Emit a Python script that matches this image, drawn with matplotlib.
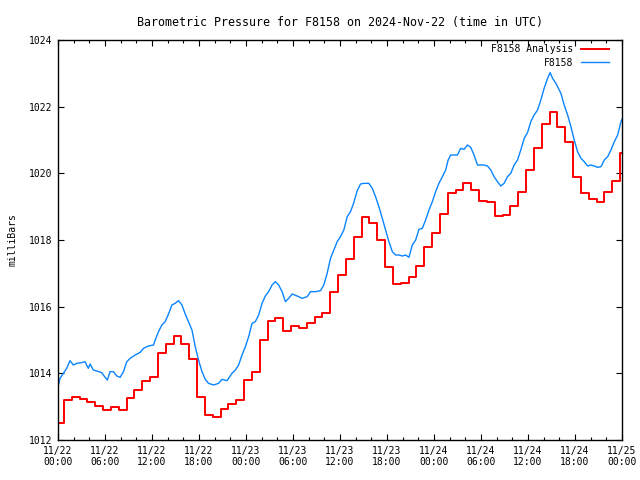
import matplotlib
matplotlib.use("Agg")
import matplotlib.pyplot as plt

# hours since 2024-11-22 00:00 UTC
blue_hours = [
    0.0, 0.26, 0.68, 1.11, 1.53, 1.96, 2.39, 3.03, 3.45, 3.87, 4.09, 4.51, 4.95, 5.59,
    6.01, 6.30, 6.65, 7.07, 7.51, 7.93, 8.35, 8.79, 9.21, 9.85, 10.49, 10.91, 11.55,
    12.19, 12.41, 12.83, 13.26, 13.68, 14.11, 14.54, 14.96, 15.38, 15.82, 16.24, 16.66,
    17.10, 17.52, 17.94, 18.38, 18.80, 19.22, 19.86, 20.50, 20.94, 21.57, 22.21, 22.64,
    23.06, 23.49, 23.92, 24.34, 24.77, 25.19, 25.62, 26.05, 26.47, 26.89, 27.33, 27.75,
    28.17, 28.61, 29.03, 29.45, 29.89, 30.53, 31.17, 31.81, 32.23, 32.87, 33.51, 33.93,
    34.36, 34.79, 35.21, 35.64, 36.06, 36.49, 36.92, 37.34, 37.76, 38.20, 38.62, 39.04,
    39.68, 40.12, 40.54, 40.96, 41.40, 41.82, 42.24, 42.68, 43.10, 43.52, 43.96, 44.38,
    44.80, 45.23, 45.66, 46.08, 46.51, 46.93, 47.36, 47.79, 48.21, 48.63, 49.07, 49.49,
    49.81, 50.13, 50.55, 50.99, 51.41, 51.83, 52.27, 52.69, 53.11, 53.55, 53.97, 54.39,
    54.83, 55.25, 55.67, 56.10, 56.53, 56.95, 57.38, 57.80, 58.23, 58.66, 59.08, 59.51,
    59.94, 60.36, 60.78, 61.22, 61.64, 62.06, 62.50, 62.83, 63.14, 63.56, 63.98, 64.20,
    64.62, 65.06, 65.48, 65.90, 66.33, 66.76, 67.18, 67.61, 68.04, 68.47, 68.89, 69.32,
    69.74, 70.17, 70.59, 71.02, 71.45, 71.87, 72.0,
]
blue_mb = [
    1013.6, 1013.85, 1014.0, 1014.15, 1014.38, 1014.25, 1014.3, 1014.32, 1014.35, 1014.15,
    1014.28, 1014.1, 1014.07, 1014.02, 1013.88, 1013.8, 1014.05, 1014.05, 1013.92, 1013.88,
    1014.05, 1014.35, 1014.45, 1014.55, 1014.63, 1014.75, 1014.82, 1014.85, 1015.0, 1015.25,
    1015.45, 1015.55, 1015.78, 1016.05, 1016.1, 1016.18, 1016.05, 1015.78, 1015.55, 1015.3,
    1014.8, 1014.4, 1014.05, 1013.82, 1013.7, 1013.65, 1013.7, 1013.82, 1013.78, 1014.0,
    1014.1, 1014.25, 1014.55, 1014.8, 1015.1, 1015.5, 1015.55, 1015.75, 1016.1, 1016.32,
    1016.45, 1016.65, 1016.75, 1016.65, 1016.45, 1016.15, 1016.25, 1016.38, 1016.32, 1016.25,
    1016.3, 1016.45, 1016.45, 1016.48, 1016.65, 1017.0, 1017.45, 1017.7, 1017.95, 1018.1,
    1018.3, 1018.7, 1018.85, 1019.12, 1019.48, 1019.68, 1019.7, 1019.7, 1019.55, 1019.3,
    1019.0, 1018.65, 1018.3, 1017.95, 1017.65, 1017.55, 1017.55, 1017.52, 1017.55, 1017.48,
    1017.85, 1018.0, 1018.32, 1018.35, 1018.6, 1018.9, 1019.15, 1019.45, 1019.7, 1019.9,
    1020.1, 1020.4, 1020.55, 1020.55, 1020.55, 1020.75, 1020.72, 1020.85, 1020.78, 1020.55,
    1020.25, 1020.25, 1020.25, 1020.22, 1020.1, 1019.9, 1019.75, 1019.62, 1019.7, 1019.9,
    1020.0, 1020.25, 1020.4, 1020.7, 1021.05, 1021.22, 1021.55, 1021.75, 1021.9, 1022.2,
    1022.55, 1022.85, 1023.02, 1022.85, 1022.7, 1022.5, 1022.4, 1022.05, 1021.75, 1021.4,
    1021.0, 1020.65, 1020.45, 1020.35, 1020.22, 1020.25, 1020.22, 1020.18, 1020.2, 1020.4,
    1020.5, 1020.7, 1020.95, 1021.15, 1021.55, 1021.62,
]

# hourly analysis values (step changes at hh:45)
red_hours = [0.0] + [h + 0.75 for h in range(72)]
red_mb = [
    1012.52, 1013.2, 1013.28, 1013.23, 1013.13, 1013.02, 1012.9, 1012.98, 1012.9, 1013.26,
    1013.5, 1013.77, 1013.9, 1014.6, 1014.88, 1015.11, 1014.88, 1014.42, 1013.28, 1012.74,
    1012.69, 1012.93, 1013.07, 1013.2, 1013.8, 1014.03, 1015.0, 1015.58, 1015.65, 1015.26,
    1015.42, 1015.36, 1015.52, 1015.68, 1015.8, 1016.43, 1016.95, 1017.42, 1018.08, 1018.68,
    1018.52, 1018.0, 1017.18, 1016.68, 1016.7, 1016.88, 1017.22, 1017.8, 1018.22, 1018.77,
    1019.4, 1019.5, 1019.7, 1019.5, 1019.16, 1019.13, 1018.72, 1018.75, 1019.02, 1019.43,
    1020.1, 1020.75, 1021.48, 1021.83, 1021.38, 1020.95, 1019.9, 1019.4, 1019.22, 1019.13,
    1019.43, 1019.78, 1020.6,
]

tick_hours = [0, 6, 12, 18, 24, 30, 36, 42, 48, 54, 60, 66, 72]
tick_labels = [
    "11/22\n00:00", "11/22\n06:00", "11/22\n12:00", "11/22\n18:00",
    "11/23\n00:00", "11/23\n06:00", "11/23\n12:00", "11/23\n18:00",
    "11/24\n00:00", "11/24\n06:00", "11/24\n12:00", "11/24\n18:00",
    "11/25\n00:00",
]
ytick_vals = [1012, 1014, 1016, 1018, 1020, 1022, 1024]

plt.rcParams["font.family"] = ["DejaVu Sans Mono"]
plt.rcParams["font.size"] = 7

fig = plt.figure(figsize=(6.4, 4.8), dpi=100)
ax = fig.add_axes([58 / 640, 40 / 480, 564 / 640, 400 / 480])

ax.step(red_hours + [72.0], red_mb + [red_mb[-1]], where="post",
        color="#ff0000", linewidth=1.4, label="F8158 Analysis")
ax.plot(blue_hours, blue_mb, color="#0a84ff", linewidth=1.0, label="F8158")

ax.set_xlim(0, 72)
ax.set_ylim(1012, 1024)
ax.set_xticks(tick_hours, tick_labels)
ax.set_xticks(range(0, 73, 2), minor=True)
ax.set_yticks(ytick_vals, [str(v) for v in ytick_vals])
ax.tick_params(axis="both", which="major", direction="in", length=4.5, width=0.8,
               top=True, right=True, pad=4)
ax.tick_params(axis="x", which="minor", direction="in", length=2.2, width=0.8, top=True)
for s in ax.spines.values():
    s.set_linewidth(1.0)

ax.set_ylabel("milliBars", labelpad=8)
ax.set_title("Barometric Pressure for F8158 on 2024-Nov-22 (time in UTC)", pad=10)

ax.legend(loc="upper right", bbox_to_anchor=(0.987, 1.004), frameon=False,
          markerfirst=False, handlelength=2.9, handletextpad=0.8, labelspacing=0.35,
          borderaxespad=0.3, borderpad=0.3)

fig.savefig("out.png", dpi=100)
